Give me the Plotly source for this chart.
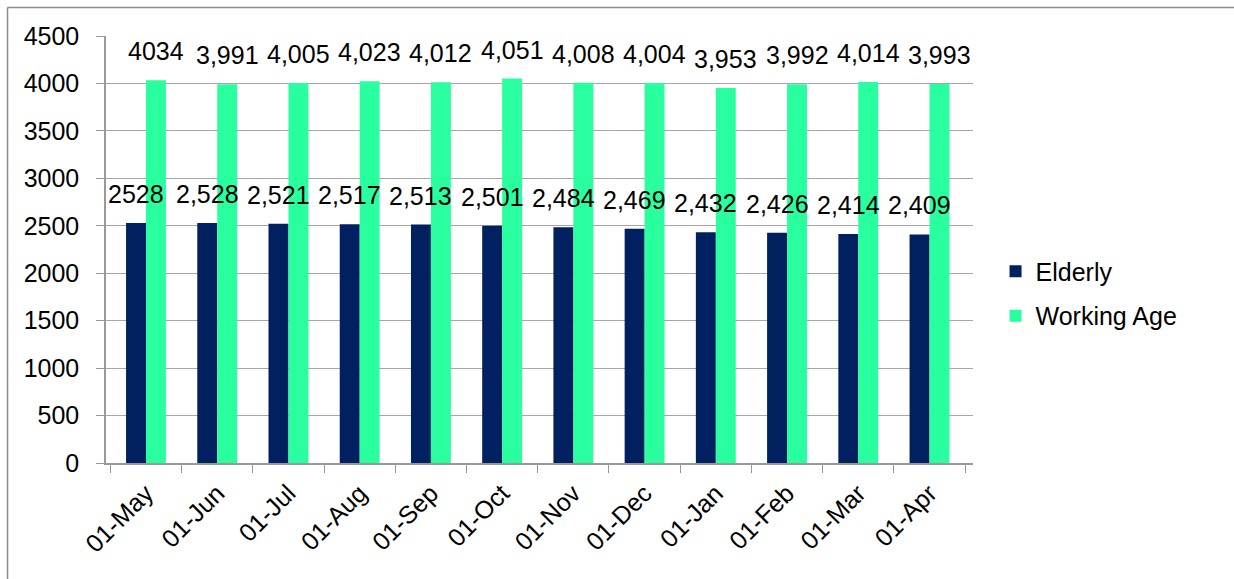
import plotly.graph_objects as go

months = ["01-May", "01-Jun", "01-Jul", "01-Aug", "01-Sep", "01-Oct",
          "01-Nov", "01-Dec", "01-Jan", "01-Feb", "01-Mar", "01-Apr"]
elderly = [2528, 2528, 2521, 2517, 2513, 2501, 2484, 2469, 2432, 2426, 2414, 2409]
working_age = [4034, 3991, 4005, 4023, 4012, 4051, 4008, 4004, 3953, 3992, 4014, 3993]

NAVY = "#00205F"
MINT = "#2AFFA0"
FONT = "Arial, Liberation Sans, sans-serif"


def fmt(i, v):
    # the opening month is shown without a thousands separator
    return str(v) if i == 0 else f"{v:,}"


fig = go.Figure()
fig.add_trace(go.Bar(name="Elderly", x=months, y=elderly, marker_color=NAVY,
                     marker_line_width=0, legendgroup="a"))
fig.add_trace(go.Bar(name="Working Age", x=months, y=working_age, marker_color=MINT,
                     marker_line_width=0, legendgroup="b"))

annotations = []
for series, shift in ((elderly, -10), (working_age, 10)):
    for i, (m, v) in enumerate(zip(months, series)):
        annotations.append(dict(
            x=m, y=v, xref="x", yref="y", text=fmt(i, v), showarrow=False,
            xanchor="center", yanchor="middle", xshift=shift, yshift=29,
            font=dict(family=FONT, size=25, color="#000000")))

shapes = [
    dict(type="line", xref="paper", yref="paper", x0=-0.1136, x1=1.4,
         y0=1.0667, y1=1.0667, line=dict(color="#8c8c8c", width=1.5)),
    dict(type="line", xref="paper", yref="paper", x0=-0.1136, x1=-0.1136,
         y0=1.0667, y1=-0.4, line=dict(color="#8c8c8c", width=1.5)),
]

fig.update_layout(
    width=1234, height=579,
    margin=dict(l=106, r=261, t=36, b=116),
    paper_bgcolor="white", plot_bgcolor="white",
    barmode="group", bargap=0.44, bargroupgap=0,
    font=dict(family=FONT, size=25, color="#000000"),
    annotations=annotations, shapes=shapes,
    legend=dict(x=1.026, y=0.397, xanchor="left", yanchor="middle",
                font=dict(family=FONT, size=25), traceorder="grouped",
                tracegroupgap=9, bgcolor="rgba(0,0,0,0)"),
    xaxis=dict(type="category", showgrid=False, showline=True, linecolor="#999999",
               linewidth=1.5, ticks="outside", tickson="boundaries", ticklen=8,
               tickcolor="#999999", tickangle=-45, ticklabelstandoff=4,
               tickfont=dict(family=FONT, size=25)),
    yaxis=dict(range=[0, 4500], dtick=500, showgrid=True, gridcolor="#a6a6a6",
               gridwidth=1.2, showline=True, linecolor="#999999", linewidth=1.5,
               ticks="outside", ticklen=8, tickcolor="#999999", zeroline=False,
               ticklabelstandoff=12, tickfont=dict(family=FONT, size=25)),
)

fig.write_html("out.html")
